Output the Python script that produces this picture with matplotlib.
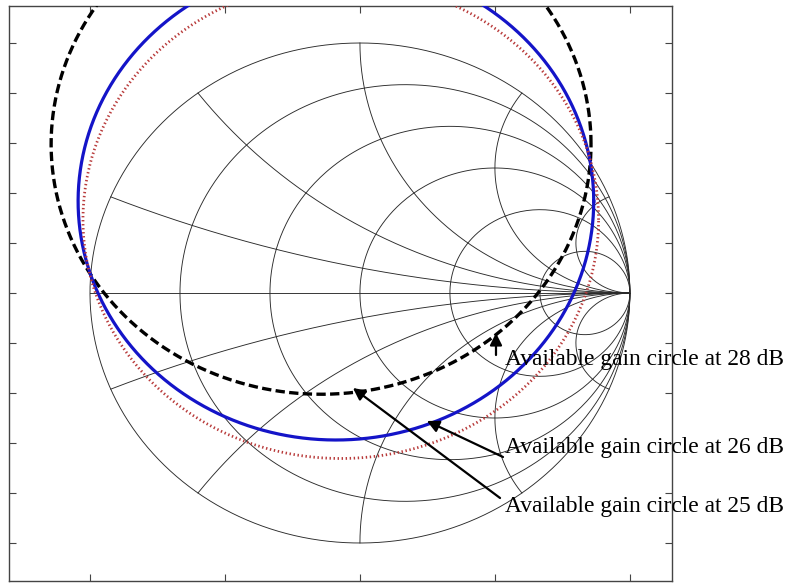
import numpy as np
import matplotlib.pyplot as plt

# smith chart grid values (resistance / reactance)
r_vals = [0.2, 0.5, 1, 2, 5]
x_vals = [0.2, 0.5, 1, 2, 5]

# available gain circles: centre (re, im) and radius in the reflection plane
circle_names = ["Available gain circle at 28 dB",
                "Available gain circle at 26 dB",
                "Available gain circle at 25 dB"]
circle_cx = [-0.144, -0.089, -0.071]
circle_cy = [0.595, 0.367, 0.293]
circle_r = [1.0, 0.955, 0.955]

# annotation text (baseline) and arrow tail / tip, in data units
txt_x = [0.537, 0.537, 0.537]
txt_y = [-0.288, -0.64, -0.876]
tail_x = [0.504, 0.53, 0.519]
tail_y = [-0.248, -0.656, -0.82]
tip_x = [0.504, 0.248, -0.026]
tip_y = [-0.16, -0.512, -0.38]


def gamma(z):
    return (z - 1) / (z + 1)


fig = plt.figure(figsize=(7.88, 5.84), dpi=100)
ax = fig.add_axes([9 / 788, 3 / 584, 663 / 788, 575 / 584])

grid_kw = dict(color="#2a2a2a", lw=0.65, zorder=1)

# outer circle and real axis
t = np.linspace(0, 2 * np.pi, 600)
ax.plot(np.cos(t), np.sin(t), **grid_kw)
ax.plot([-1, 1], [0, 0], **grid_kw)

# constant resistance circles
xs = np.concatenate([-np.logspace(3, -3, 400), np.logspace(-3, 3, 400)])
for r in r_vals:
    g = gamma(r + 1j * xs)
    ax.plot(g.real, g.imag, **grid_kw)

# constant reactance arcs
rs = np.concatenate([[0], np.logspace(-3, 3, 600)])
for x in x_vals:
    for s in (1, -1):
        g = gamma(rs + 1j * s * x)
        ax.plot(g.real, g.imag, **grid_kw)

# gain circles
styles = [dict(color="black", ls=(0, (2.8, 1.3)), lw=2.4),
          dict(color="#1414c8", ls="-", lw=2.3),
          dict(color="#b83a3a", ls=(0, (0.5, 0.95)), lw=2.0)]
for cx, cy, rad, st in zip(circle_cx, circle_cy, circle_r, styles):
    ax.plot(cx + rad * np.cos(t), cy + rad * np.sin(t), zorder=3, **st)

# annotations
for name, tx, ty in zip(circle_names, txt_x, txt_y):
    ax.text(tx, ty, name, fontsize=16.9, family="Liberation Serif",
            va="baseline", ha="left", clip_on=False, zorder=5)
for x0, y0, x1, y1 in zip(tail_x, tail_y, tip_x, tip_y):
    ax.annotate("", xy=(x1, y1), xytext=(x0, y0),
                arrowprops=dict(arrowstyle="-|>", color="black", lw=1.6,
                                mutation_scale=18, shrinkA=0, shrinkB=0),
                zorder=4)

ax.set_xlim(-1.3, 1.156)
ax.set_ylim(-1.152, 1.148)
ax.set_xticks([-1, -0.5, 0, 0.5, 1])
ax.set_yticks(np.arange(-1, 1.01, 0.2))
ax.tick_params(direction="in", length=5, top=True, right=True,
               labelbottom=False, labelleft=False, color="#444444")
for sp in ax.spines.values():
    sp.set_color("#444444")
    sp.set_linewidth(1.0)

fig.savefig("out.png", dpi=100)
